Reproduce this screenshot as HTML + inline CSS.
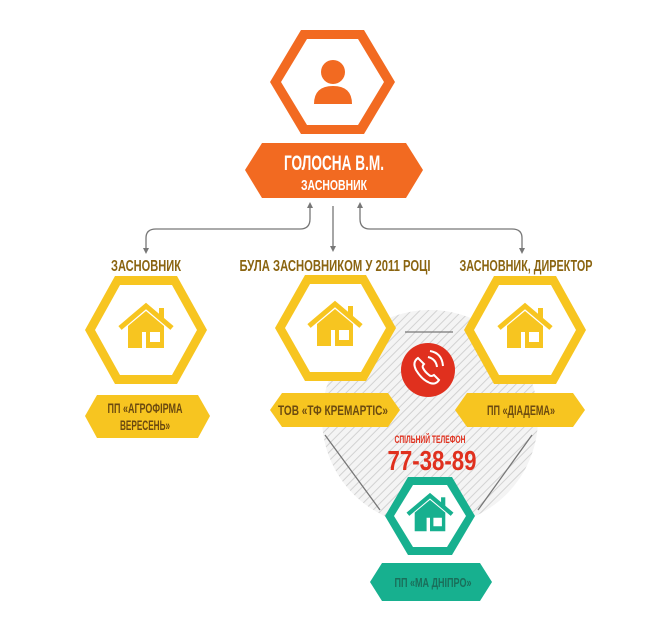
<!DOCTYPE html>
<html><head><meta charset="utf-8"><style>
body{margin:0;background:#fff}
svg{display:block}
text{font-family:"Liberation Sans",sans-serif;font-weight:bold;text-anchor:middle}
</style></head><body>
<svg width="650" height="622" viewBox="0 0 650 622" xmlns="http://www.w3.org/2000/svg">
<defs>
<pattern id="hatch" width="6" height="6" patternUnits="userSpaceOnUse" patternTransform="rotate(45)">
<rect width="6" height="6" fill="#f4f4f4"/><line x1="0" y1="0" x2="0" y2="6" stroke="#d2d2d2" stroke-width="2"/>
</pattern>
<g id="house">
<polyline points="-26,-2 0,-24 26,-2" fill="none" stroke="currentColor" stroke-width="5"/>
<rect x="13" y="-22" width="5" height="12" fill="currentColor"/>
<path d="M-18,-4 L0,-19 L18,-4 L18,18 L-18,18 Z M-4,2 L-4,18 L0,18 L0,2 Z M4,2 L4,12 L14,12 L14,2 Z" fill="currentColor" fill-rule="evenodd"/>
</g>
</defs>
<circle cx="430" cy="418" r="108" fill="url(#hatch)"/>
<g fill="none" stroke="#777" stroke-width="1.3">
<path d="M146,250 V238 Q146,229 156,229 H300 Q310,229 310,219 V206"/>
<path d="M333,206 V248"/>
<path d="M360,206 V219 Q360,229 370,229 H512 Q522,229 522,238 V250"/>
<path d="M405,332 H453"/>
<path d="M325,435 L380,510"/>
<path d="M532,435 L478,510"/>
</g>
<g fill="#777">
<path d="M310,202 l-3,6 h6z"/><path d="M333,252 l-3,-6 h6z"/><path d="M360,202 l-3,6 h6z"/>
<path d="M146,254 l-3,-6 h6z"/><path d="M522,254 l-3,-6 h6z"/>
</g>
<polygon points="270,82 301,30 364,30 395,82 364,134 301,134" fill="#f26a21"/>
<polygon points="281,82 307,39 358,39 384,82 358,125 307,125" fill="#fff"/>
<circle cx="333" cy="72" r="12" fill="#f26a21"/>
<path d="M314,104 Q314,86 333,86 Q352,86 352,104 Z" fill="#f26a21"/>
<polygon points="245,170 262,143 406,143 423,170 406,198 262,198" fill="#f26a21"/>
<text x="334" y="170" fill="#fff" font-size="21" textLength="100" lengthAdjust="spacingAndGlyphs">ГОЛОСНА В.М.</text>
<text x="334" y="190" fill="#fff" font-size="15" textLength="66" lengthAdjust="spacingAndGlyphs">ЗАСНОВНИК</text>
<g fill="#8a6410" font-size="16">
<text x="146" y="271" textLength="70" lengthAdjust="spacingAndGlyphs">ЗАСНОВНИК</text>
<text x="335" y="271" textLength="191" lengthAdjust="spacingAndGlyphs">БУЛА ЗАСНОВНИКОМ У 2011 РОЦІ</text>
<text x="526" y="271" textLength="133" lengthAdjust="spacingAndGlyphs">ЗАСНОВНИК, ДИРЕКТОР</text>
</g>
<g color="#f7c520">
<polygon points="85,330 115,276 177,276 207,330 177,384 115,384" fill="#f7c520"/>
<polygon points="95,330 120,285 172,285 197,330 172,375 120,375" fill="#fff"/>
<use href="#house" x="146" y="330"/>
<polygon points="275,328 305,275 366,275 396,328 366,381 305,381" fill="#f7c520"/>
<polygon points="285,328 310,284 361,284 386,328 361,372 310,372" fill="#fff"/>
<use href="#house" x="335" y="328"/>
<polygon points="464,330 494,276 556,276 586,330 556,384 494,384" fill="#f7c520"/>
<polygon points="474,330 499,285 551,285 576,330 551,375 499,375" fill="#fff"/>
<use href="#house" x="525" y="330"/>
</g>
<polygon points="85,416 97,395 198,395 210,416 198,438 97,438" fill="#f7c520"/>
<polygon points="270,410 282,393 388,393 400,410 388,427 282,427" fill="#f7c520"/>
<polygon points="455,410 467,393 573,393 585,410 573,427 467,427" fill="#f7c520"/>
<g fill="#6b4a10" font-size="14">
<text x="145" y="413" textLength="75" lengthAdjust="spacingAndGlyphs">ПП «АГРОФІРМА</text>
<text x="145" y="430" textLength="50" lengthAdjust="spacingAndGlyphs">ВЕРЕСЕНЬ»</text>
<text x="333" y="415" textLength="110" lengthAdjust="spacingAndGlyphs">ТОВ «ТФ КРЕМАРТІС»</text>
<text x="521" y="415" textLength="68" lengthAdjust="spacingAndGlyphs">ПП «ДІАДЕМА»</text>
</g>
<circle cx="428" cy="370" r="27" fill="#e0301e"/>
<g fill="none" stroke="#fff" stroke-width="2">
<path d="M418,358 q-6,4 -2,12 q6,10 14,13 q6,2 9,-3 l-5,-5 q-3,2 -5,0 q-4,-3 -6,-7 q-1,-2 1,-4 z"/>
<path d="M428,357 q8,2 9,10"/><path d="M430,351 q12,2 13,15"/>
</g>
<text x="430" y="443" fill="#e0301e" font-size="11" textLength="71" lengthAdjust="spacingAndGlyphs">СПІЛЬНИЙ ТЕЛЕФОН</text>
<text x="432" y="470" fill="#e0301e" font-size="28" textLength="89" lengthAdjust="spacingAndGlyphs">77-38-89</text>
<g color="#17b08f">
<polygon points="385,516 408,477 452,477 475,516 452,555 408,555" fill="#17b08f"/>
<polygon points="394,516 413,485 447,485 466,516 447,547 413,547" fill="#fff"/>
<use href="#house" x="430" y="516" transform="translate(430 516) scale(0.85) translate(-430 -516)"/>
</g>
<polygon points="370,582 382,563 480,563 492,582 480,601 382,601" fill="#17b08f"/>
<text x="433" y="587" fill="#1a6e5a" font-size="13" textLength="77" lengthAdjust="spacingAndGlyphs">ПП «МА ДНІПРО»</text>
</svg>
</body></html>
